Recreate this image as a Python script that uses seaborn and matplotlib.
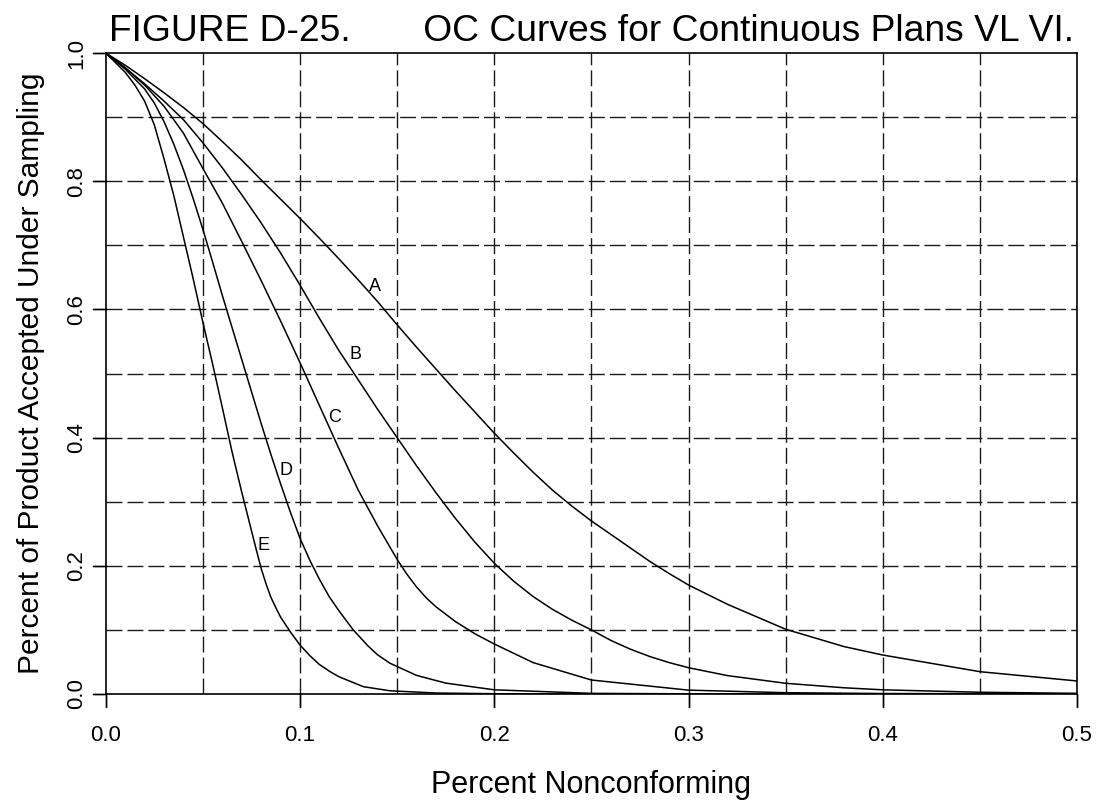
import matplotlib
matplotlib.use("Agg")
import matplotlib.pyplot as plt
import pandas as pd
import seaborn as sns

# Operating-characteristic curves: percent nonconforming vs. fraction accepted under sampling
plan_a_p = [0.0, 0.01, 0.02, 0.03, 0.04, 0.05, 0.06, 0.07, 0.08, 0.09, 0.10, 0.11, 0.12,
            0.13, 0.14, 0.15, 0.16, 0.17, 0.18, 0.19, 0.20, 0.21, 0.22, 0.23, 0.24, 0.25,
            0.26, 0.27, 0.28, 0.29, 0.30, 0.32, 0.35, 0.38, 0.40, 0.45, 0.50]
plan_a_v = [1.0, 0.981, 0.96, 0.938, 0.915, 0.89, 0.862, 0.833, 0.802, 0.772, 0.742, 0.711,
            0.679, 0.646, 0.612, 0.576, 0.541, 0.507, 0.473, 0.44, 0.407, 0.376, 0.346,
            0.318, 0.293, 0.27, 0.249, 0.228, 0.207, 0.188, 0.17, 0.14, 0.101, 0.074,
            0.0608, 0.0348, 0.0203]

plan_b_p = [0.0, 0.01, 0.02, 0.03, 0.04, 0.05, 0.06, 0.07, 0.08, 0.09, 0.10, 0.11, 0.12,
            0.13, 0.14, 0.15, 0.16, 0.17, 0.18, 0.19, 0.20, 0.21, 0.22, 0.23, 0.24, 0.25,
            0.26, 0.27, 0.28, 0.29, 0.30, 0.32, 0.35, 0.38, 0.40, 0.45, 0.50]
plan_b_v = [1.0, 0.977, 0.952, 0.925, 0.896, 0.86, 0.821, 0.779, 0.735, 0.688, 0.638, 0.586,
            0.536, 0.49, 0.444, 0.4, 0.356, 0.314, 0.274, 0.237, 0.204, 0.176, 0.152,
            0.132, 0.115, 0.1, 0.0836, 0.07, 0.0585, 0.049, 0.041, 0.0287, 0.0167,
            0.0097, 0.0065, 0.0027, 0.001]

plan_c_p = [0.0, 0.01, 0.02, 0.03, 0.04, 0.05, 0.06, 0.07, 0.08, 0.09, 0.10, 0.11, 0.12,
            0.13, 0.14, 0.15, 0.155, 0.16, 0.165, 0.17, 0.18, 0.19, 0.20, 0.22, 0.25, 0.30,
            0.35, 0.40, 0.50]
plan_c_v = [1.0, 0.977, 0.95, 0.917, 0.875, 0.82, 0.766, 0.706, 0.645, 0.582, 0.517, 0.45,
            0.383, 0.318, 0.262, 0.21, 0.187, 0.167, 0.15, 0.136, 0.113, 0.094, 0.078,
            0.049, 0.0218, 0.006, 0.002, 0.0007, 0.0001]

plan_d_p = [0.0, 0.01, 0.02, 0.025, 0.03, 0.035, 0.04, 0.045, 0.05, 0.055, 0.06, 0.065,
            0.07, 0.075, 0.08, 0.085, 0.09, 0.095, 0.10, 0.105, 0.11, 0.115, 0.12, 0.1274,
            0.135, 0.14, 0.1463, 0.16, 0.175, 0.20, 0.25, 0.30, 0.50]
plan_d_v = [1.0, 0.975, 0.944, 0.922, 0.893, 0.858, 0.818, 0.773, 0.725, 0.674, 0.622,
            0.572, 0.522, 0.472, 0.422, 0.374, 0.328, 0.284, 0.243, 0.209, 0.179, 0.152,
            0.13, 0.1, 0.075, 0.061, 0.048, 0.029, 0.017, 0.0065, 0.001, 0.0002, 0.0]

plan_e_p = [0.0, 0.01, 0.015, 0.02, 0.025, 0.03, 0.035, 0.04, 0.045, 0.05, 0.055, 0.06,
            0.065, 0.07, 0.075, 0.0775, 0.08, 0.0825, 0.085, 0.0875, 0.09, 0.095, 0.10,
            0.105, 0.11, 0.1154, 0.12, 0.1326, 0.1463, 0.17, 0.20, 0.25, 0.50]
plan_e_v = [1.0, 0.97, 0.95, 0.925, 0.888, 0.835, 0.778, 0.713, 0.648, 0.58, 0.515, 0.447,
            0.378, 0.315, 0.255, 0.225, 0.196, 0.172, 0.151, 0.135, 0.12, 0.097, 0.0764,
            0.06, 0.046, 0.035, 0.027, 0.0114, 0.005, 0.0015, 0.0004, 0.0, 0.0]

plan_names = ["A", "B", "C", "D", "E"]
label_p = [0.1386, 0.1287, 0.1177, 0.0926, 0.0811]
label_v = [0.635, 0.530, 0.431, 0.348, 0.231]

x_ticks = [0.0, 0.1, 0.2, 0.3, 0.4, 0.5]
y_ticks = [0.0, 0.2, 0.4, 0.6, 0.8, 1.0]
x_grid = [0.05, 0.1, 0.15, 0.2, 0.25, 0.3, 0.35, 0.4, 0.45]
y_grid = [0.1, 0.2, 0.3, 0.4, 0.5, 0.6, 0.7, 0.8, 0.9]

frames = []
for name, p, v in zip(plan_names,
                      [plan_a_p, plan_b_p, plan_c_p, plan_d_p, plan_e_p],
                      [plan_a_v, plan_b_v, plan_c_v, plan_d_v, plan_e_v]):
    frames.append(pd.DataFrame({"plan": name, "p": p, "pa": v}))
curves = pd.concat(frames, ignore_index=True)

# plain white background with black frame
plt.rcParams.update({
    "font.family": ["Liberation Sans", "DejaVu Sans"],
    "lines.scale_dashes": False,
    "text.color": "black",
    "axes.labelcolor": "black",
    "axes.edgecolor": "black",
    "axes.facecolor": "white",
    "axes.grid": False,
})

fig = plt.figure(figsize=(10.98, 8.01), dpi=100)
ax = fig.add_axes([0.0963, 0.1336, 0.9809 - 0.0963, 0.9338 - 0.1336])

# dashed reference grid
for gx in x_grid:
    ax.axvline(gx, color="#1a1a1a", lw=1.0, ls=(0, (11.5, 3.6)), zorder=1)
for gy in y_grid:
    ax.axhline(gy, color="#1a1a1a", lw=1.0, ls=(0, (11.5, 3.6)), zorder=1)

sns.lineplot(data=curves, x="p", y="pa", hue="plan", units="plan", estimator=None,
             sort=False, palette={n: "black" for n in plan_names},
             linewidth=1.1, legend=False, ax=ax, zorder=3)

for name, px, py in zip(plan_names, label_p, label_v):
    ax.text(px, py, name, fontsize=13, ha="center", va="center", color="black", zorder=4)

ax.set_xlim(0, 0.5)
ax.set_ylim(0, 1)
ax.set_xticks(x_ticks)
ax.set_xticklabels([f"{t:.1f}" for t in x_ticks])
ax.set_yticks(y_ticks)
ax.set_yticklabels([f"{t:.1f}" for t in y_ticks], rotation=90, va="center")
ax.tick_params(axis="both", which="major", direction="out", length=9.4, width=1.0,
               color="black", labelsize=16, labelcolor="black")
ax.tick_params(axis="x", pad=13)
ax.tick_params(axis="y", pad=4)

# outward tick strokes at the labelled positions, drawn in axis-blended coordinates
tick_len_x = 0.0203
tick_len_y = 0.0134
for t in x_ticks:
    ax.plot([t, t], [0, -tick_len_x], transform=ax.get_xaxis_transform(),
            color="black", lw=1.0, clip_on=False, zorder=5)
for t in y_ticks:
    ax.plot([0, -tick_len_y], [t, t], transform=ax.get_yaxis_transform(),
            color="black", lw=1.0, clip_on=False, zorder=5)

for side in ["left", "right", "top", "bottom"]:
    ax.spines[side].set_visible(True)
    ax.spines[side].set_color("black")
    ax.spines[side].set_linewidth(1.2)

ax.set_xlabel("Percent Nonconforming", fontsize=22, labelpad=17)
ax.set_ylabel("Percent of Product Accepted Under Sampling", fontsize=21.5, labelpad=15)
ax.set_title("FIGURE D-25.       OC Curves for Continuous Plans VL VI.",
             fontsize=26.8, pad=8.6, color="black")

fig.savefig("out.png", dpi=100, facecolor="white")
